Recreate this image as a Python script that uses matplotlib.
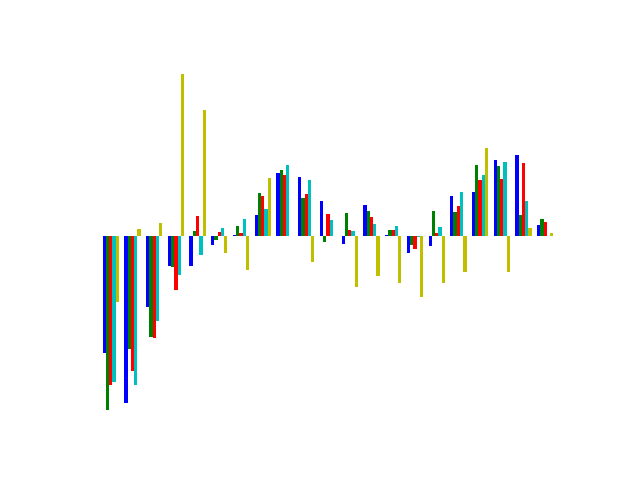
import matplotlib
matplotlib.use('Agg')
import matplotlib.pyplot as plt
import numpy as np

# values (arbitrary units, no axis shown)
blue = [-117, -167, -71, -30, -30, -9, 1, 21, 63, 59, 35, -8, 31, 1, -17, -10, 40, 44, 76, 81, 11]
green = [-174, -113, -101, -31, 5, -4, 10, 43, 66, 38, -6, 23, 25, 6, -9, 25, 24, 71, 70, 21, 17]
red = [-149, -135, -102, -54, 20, 4, 3, 40, 61, 42, 22, 6, 19, 6, -13, 3, 30, 56, 57, 73, 14]
cyan = [-146, -149, -85, -39, -19, 8, 17, 27, 71, 56, 16, 5, 12, 10, -1, 9, 44, 61, 74, 35, 0]
yellow = [-66, 7, 13, 162, 126, -17, -34, 58, 0, -26, 0, -51, -40, -47, -61, -47, -36, 88, -36, 8, 3]

series = [blue, green, red, cyan, yellow]
colors = ['b', 'g', 'r', 'c', 'y']

x = np.arange(len(blue))
width = 0.15

fig, ax = plt.subplots(figsize=(6.4, 4.8), dpi=100)
for k, (vals, col) in enumerate(zip(series, colors)):
    ax.bar(x + k * width, vals, width, color=col)

ax.axis('off')
fig.savefig('out.png')
